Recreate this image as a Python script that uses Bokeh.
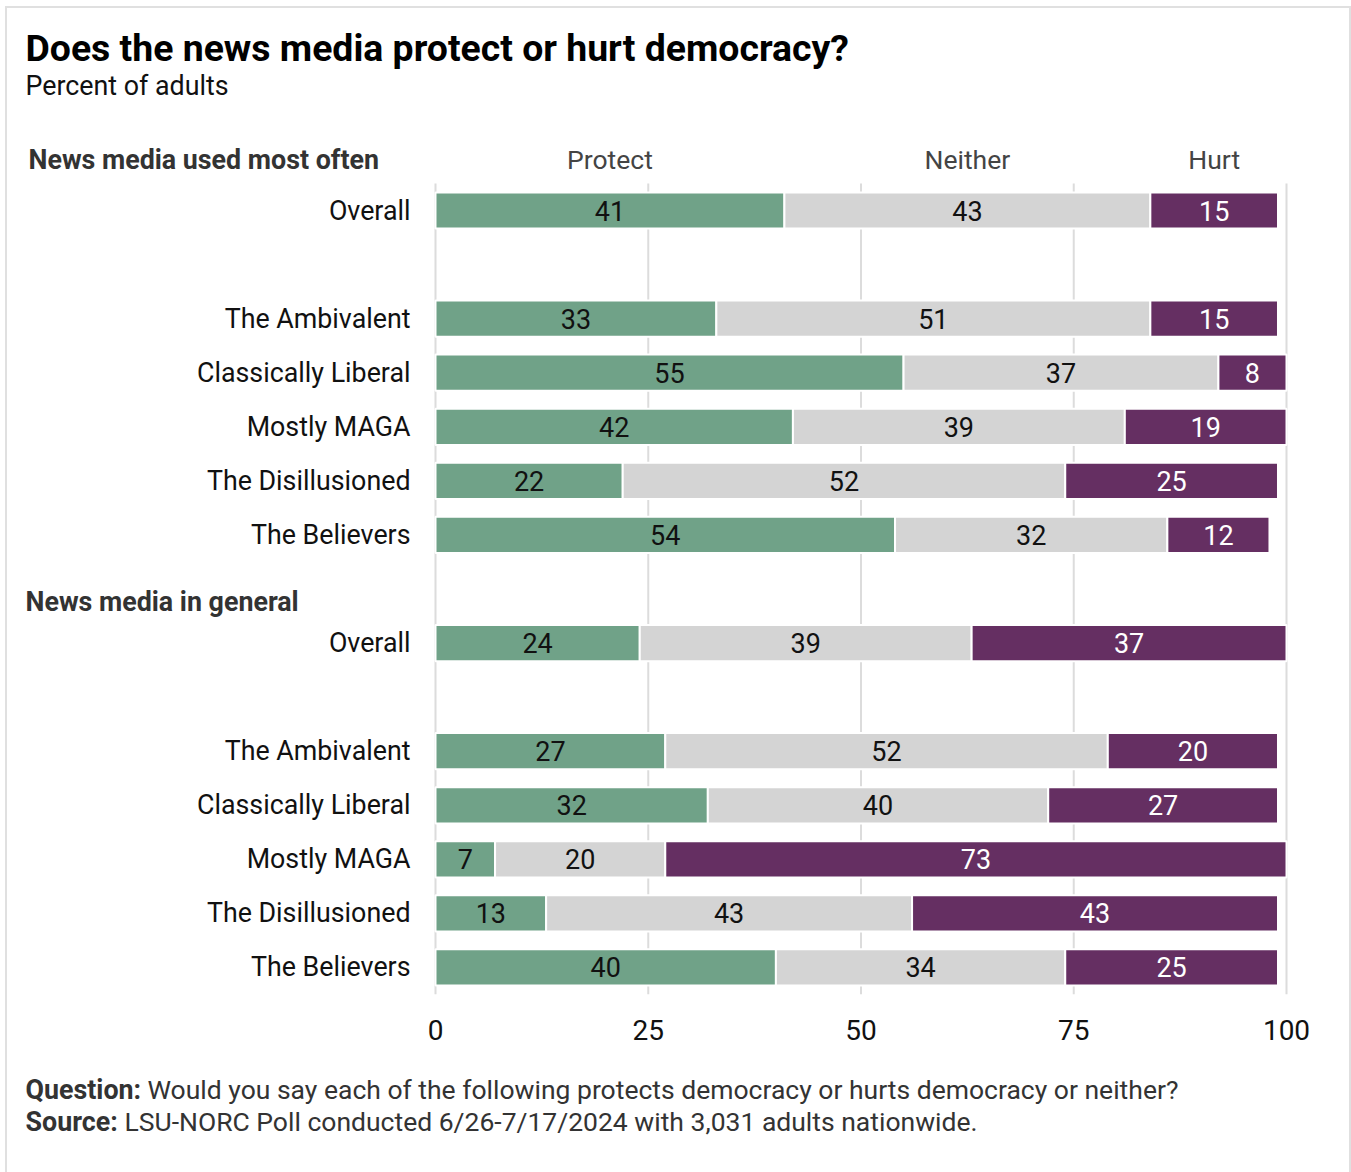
from bokeh.plotting import figure
from bokeh.models import ColumnDataSource, FixedTicker, Range1d
from bokeh.layouts import column
from bokeh.core.properties import value
from bokeh.embed import file_html
from bokeh.resources import INLINE

# ---------------- data ----------------
title = "Does the news media protect or hurt democracy?"
subtitle = "Percent of adults"
series = ["Protect", "Neither", "Hurt"]
groups = ["News media used most often", "News media in general"]
rows = ["Overall", "The Ambivalent", "Classically Liberal", "Mostly MAGA",
        "The Disillusioned", "The Believers",
        "Overall", "The Ambivalent", "Classically Liberal", "Mostly MAGA",
        "The Disillusioned", "The Believers"]
row_group = [0, 0, 0, 0, 0, 0, 1, 1, 1, 1, 1, 1]
protect = [41, 33, 55, 42, 22, 54, 24, 27, 32, 7, 13, 40]
neither = [43, 51, 37, 39, 52, 32, 39, 52, 40, 20, 43, 34]
hurt = [15, 15, 8, 19, 25, 12, 37, 20, 27, 73, 43, 25]
x_ticks = [0, 25, 50, 75, 100]
note_q = ["Question:", "Would you say each of the following protects democracy or hurts democracy or neither?"]
note_s = ["Source:", "LSU-NORC Poll conducted 6/26-7/17/2024 with 3,031 adults nationwide."]

colors = ["#70a288", "#d4d4d4", "#652f62"]
label_colors = ["#111111", "#111111", "#ffffff"]
FONT = value("Roboto")

# slot layout: overall row, gap, five segments; heading slot between groups
slots = []
s = 0
prev_group = None
prev_overall = False
for i, r in enumerate(rows):
    if prev_group is not None and row_group[i] != prev_group:
        s += 1
    if prev_overall:
        s += 1
    slots.append(s)
    s += 1
    prev_group = row_group[i]
    prev_overall = (r == "Overall")
n_slots = s

# ---------------- geometry ----------------
OX, OY = 7, 8                      # offset of the chart box on the page
W = 1349 - OX
H_TOTAL = 1172 - OY
H_MAIN = 1054 - OY
H_FOOT = H_TOTAL - H_MAIN
X0_PX, X100_PX = 435 - OX, 1286 - OX
ROW0_PX, ROW_STEP = 210 - OY, 54.07
FRAME_BOTTOM = 994 - OY
AXIS_PANEL = H_MAIN - FRAME_BOTTOM

ppu = (X100_PX - X0_PX) / 100.0
x_start = -X0_PX / ppu
x_end = (W - X0_PX) / ppu
y_bottom = (FRAME_BOTTOM - ROW0_PX) / ROW_STEP
y_top = (0 - ROW0_PX) / ROW_STEP


def dx(page_x):
    return (page_x - OX - X0_PX) / ppu


def dy(page_y):
    return (page_y - OY - ROW0_PX) / ROW_STEP


p = figure(width=W, height=H_MAIN, output_backend="svg", toolbar_location=None,
           x_range=Range1d(x_start, x_end), y_range=Range1d(y_bottom, y_top),
           y_axis_location=None,
           min_border_left=0, min_border_right=0, min_border_top=0,
           min_border_bottom=AXIS_PANEL)
p.outline_line_color = None
p.xgrid.visible = False
p.ygrid.visible = False
p.background_fill_color = "white"
p.border_fill_color = "white"

# grid lines (only across the bar area)
grid_top = -0.5
grid_bottom = n_slots - 0.5
p.segment(x0=x_ticks, x1=x_ticks, y0=[grid_top] * len(x_ticks),
          y1=[grid_bottom] * len(x_ticks), line_color="#dcdcdc", line_width=2)

# bars
starts = [[0] * len(rows), protect, [a + b for a, b in zip(protect, neither)]]
vals = [protect, neither, hurt]
for k in range(3):
    left = starts[k]
    right = [l + v for l, v in zip(left, vals[k])]
    src = ColumnDataSource(dict(y=slots, left=left, right=right,
                                mid=[(l + r) / 2 for l, r in zip(left, right)],
                                lab=[str(v) for v in vals[k]]))
    p.hbar(y="y", left="left", right="right", height=0.67, source=src,
           fill_color=colors[k], line_color="white", line_width=2)
    p.text(x="mid", y="y", text="lab", source=src, text_align="center",
           text_baseline="middle", text_font=FONT,
           text_font_size="27px", text_color=label_colors[k])

# row labels
row_src = ColumnDataSource(dict(x=[dx(410)] * len(rows), y=slots, t=rows))
p.text(x="x", y="y", text="t", source=row_src, text_align="right",
       text_baseline="middle", text_font=FONT, text_font_size="26.8px",
       text_color="#111111")

# column headers centred over first row's segments
hdr_mid = [starts[k][0] + vals[k][0] / 2 for k in range(3)]
p.text(x=hdr_mid, y=[dy(159)] * 3, text=series, text_align="center",
       text_baseline="middle", text_font=FONT, text_font_size="26.5px",
       text_color="#444444")

# group headings
p.text(x=[dx(28), dx(25)], y=[dy(159), dy(601)], text=groups,
       text_align="left", text_baseline="middle", text_font=FONT,
       text_font_size="26.8px", text_font_style="bold", text_color="#333333")

# title and subtitle
p.text(x=[dx(25)], y=[dy(47)], text=[title], text_align="left",
       text_baseline="middle", text_font=FONT, text_font_size="37.4px",
       text_font_style="bold", text_color="#000000")
p.text(x=[dx(25)], y=[dy(85)], text=[subtitle], text_align="left",
       text_baseline="middle", text_font=FONT, text_font_size="26.8px",
       text_color="#111111")

# x axis
p.xaxis.ticker = FixedTicker(ticks=x_ticks)
p.xaxis.axis_line_color = None
p.xaxis.major_tick_line_color = None
p.xaxis.minor_tick_line_color = None
p.xaxis.major_label_text_font = "Roboto"
p.xaxis.major_label_text_font_size = "28px"
p.xaxis.major_label_text_color = "#111111"
p.xaxis.major_label_standoff = 19

# ---------------- footer ----------------
f = figure(width=W, height=H_FOOT, output_backend="svg", toolbar_location=None,
           x_range=Range1d(0, W), y_range=Range1d(H_FOOT, 0),
           x_axis_location=None, y_axis_location=None,
           min_border_left=0, min_border_right=0, min_border_top=0,
           min_border_bottom=0)
f.outline_line_color = None
f.xgrid.visible = False
f.ygrid.visible = False
f.border_fill_color = "white"
f.background_fill_color = "white"
fy = [1089 - OY - H_MAIN, 1121 - OY - H_MAIN]
f.text(x=[25 - OX, 25 - OX], y=fy, text=[note_q[0], note_s[0]], text_align="left",
       text_baseline="middle", text_font=FONT, text_font_size="26.8px",
       text_font_style="bold", text_color="#333333")
f.text(x=[147 - OX, 124 - OX], y=fy, text=[note_q[1], note_s[1]], text_align="left",
       text_baseline="middle", text_font=FONT, text_font_size="26.5px",
       text_color="#333333")

layout = column(p, f, spacing=0,
                styles={"margin-left": f"{OX}px", "margin-top": f"{OY}px",
                        "outline": "2px solid #e0e0e0"})
open("out.html", "w").write(file_html(layout, INLINE))
